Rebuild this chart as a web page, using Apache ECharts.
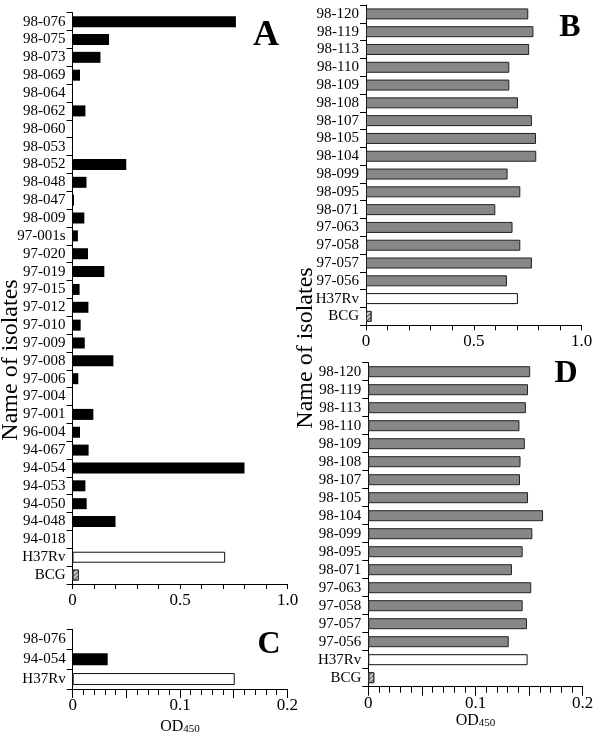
<!DOCTYPE html>
<html>
<head>
<meta charset="utf-8">
<script src="https://cdn.jsdelivr.net/npm/echarts@6/dist/echarts.min.js"></script>
<style>
html,body{margin:0;padding:0;background:#fff;}
#chart{width:602px;height:740px;}
</style>
</head>
<body>
<div id="chart"></div>
<script>
// ---------- data ----------
var catsA = ['98-076','98-075','98-073','98-069','98-064','98-062','98-060','98-053','98-052','98-048','98-047','98-009','97-001s','97-020','97-019','97-015','97-012','97-010','97-009','97-008','97-006','97-004','97-001','96-004','94-067','94-054','94-053','94-050','94-048','94-018','H37Rv','BCG'];
var valsA = [0.76,0.17,0.13,0.035,0,0.06,0,0,0.25,0.065,0.007,0.055,0.025,0.072,0.148,0.033,0.074,0.038,0.057,0.19,0.027,0,0.097,0.035,0.075,0.80,0.06,0.066,0.20,0,0.71,0.03];

var catsB = ['98-120','98-119','98-113','98-110','98-109','98-108','98-107','98-105','98-104','98-099','98-095','98-071','97-063','97-058','97-057','97-056','H37Rv','BCG'];
var valsB = [0.753,0.777,0.757,0.665,0.665,0.705,0.77,0.789,0.79,0.657,0.716,0.60,0.68,0.716,0.77,0.654,0.705,0.026];

var catsC = ['98-076','94-054','H37Rv'];
var valsC = [0,0.0326,0.151];

var catsD = catsB;
var valsD = [0.151,0.149,0.147,0.141,0.146,0.142,0.1415,0.149,0.163,0.153,0.144,0.134,0.152,0.144,0.148,0.131,0.1486,0.0056];

var panelLetters = ['A','B','C','D'];
var yTitle = 'Name of isolates';
var xTitleMain = 'OD';
var xTitleSub = '450';

// ---------- styles ----------
var FONT = "'Liberation Serif','DejaVu Serif','Times New Roman',serif";
var styleWhite = {color:'#ffffff', borderColor:'#111', borderWidth:1};
var styleHatch = {color:'#cfcfcf', borderColor:'#333', borderWidth:1,
  decal:{symbol:'rect', symbolSize:1, dashArrayX:[1,0], dashArrayY:[1,2], rotation:-Math.PI/4, color:'#555'}};
var styleBlack = {color:'#000000'};
var styleGray = {color:'#878787', borderColor:'#222', borderWidth:1};

function build(cats, vals, base) {
  return vals.map(function(v, i){
    var st = base;
    if (cats[i] === 'H37Rv') st = styleWhite;
    else if (cats[i] === 'BCG') st = styleHatch;
    return {value: v, itemStyle: st};
  });
}

function fmtUnit(v){
  var r = Math.round(v*10);
  if (r === 0) return '0';
  if (r === 5) return '0.5';
  if (r === 10) return '1.0';
  return '';
}
function fmtSmall(v){
  var r = Math.round(v*100);
  if (r === 0) return '0';
  if (r === 10) return '0.1';
  if (r === 20) return '0.2';
  return '';
}

function xAx(idx, max, interval, fmt, majorLen, minorLen, withName, nameGap) {
  var ax = {
    type:'value', gridIndex:idx, min:0, max:max, interval:interval,
    axisLine:{show:true, onZero:false, lineStyle:{color:'#000', width:1}},
    axisTick:{show:true, length:majorLen, lineStyle:{color:'#000'}},
    minorTick:{show:true, splitNumber:5, length:minorLen, lineStyle:{color:'#000'}},
    splitLine:{show:false}, minorSplitLine:{show:false},
    axisLabel:{formatter:fmt, color:'#000', fontFamily:FONT, fontSize:17, margin:8, showMinLabel:true, showMaxLabel:true}
  };
  if (withName) {
    ax.name = '{a|' + xTitleMain + '}{b|' + xTitleSub + '}';
    ax.nameLocation = 'middle';
    ax.nameGap = nameGap;
    ax.nameTextStyle = {color:'#000', rich:{
      a:{fontFamily:FONT, fontSize:16, color:'#000'},
      b:{fontFamily:FONT, fontSize:11, color:'#000', verticalAlign:'bottom', padding:[5,0,0,0]}
    }};
  }
  return ax;
}

function yAx(idx, cats) {
  return {
    type:'category', gridIndex:idx, data:cats, inverse:true,
    axisLine:{show:true, lineStyle:{color:'#000', width:1}},
    axisTick:{show:true, length:6, lineStyle:{color:'#000'}},
    axisLabel:{color:'#000', fontFamily:FONT, fontSize:15, margin:7, interval:0}
  };
}

function letter(t, x, y, size){
  return {type:'text', x:x, y:y, style:{text:t, fill:'#000', font:'bold '+size+'px '+FONT, textAlign:'center', textVerticalAlign:'middle'}};
}
function vtitle(x, y){
  return {type:'text', x:x, y:y, rotation:Math.PI/2, style:{text:yTitle, fill:'#000', font:'24px '+FONT, textAlign:'center', textVerticalAlign:'middle'}};
}

var option = {
  animation:false,
  backgroundColor:'#fff',
  grid:[
    {left:72.5, top:12.7, width:215, height:571.3},
    {left:366, top:5, width:215.5, height:320.3},
    {left:72.7, top:629.3, width:214.6, height:59.7},
    {left:368.3, top:362.7, width:214.4, height:324}
  ],
  xAxis:[
    xAx(0, 1, 0.5, fmtUnit, 5, 5, false),
    xAx(1, 1, 0.5, fmtUnit, 5, 5, false),
    xAx(2, 0.2, 0.05, fmtSmall, 9, 6, true, 30),
    xAx(3, 0.2, 0.05, fmtSmall, 9, 6, true, 26)
  ],
  yAxis:[ yAx(0, catsA), yAx(1, catsB), yAx(2, catsC), yAx(3, catsD) ],
  series:[
    {type:'bar', xAxisIndex:0, yAxisIndex:0, barWidth:11, data:build(catsA, valsA, styleBlack)},
    {type:'bar', xAxisIndex:1, yAxisIndex:1, barWidth:11, data:build(catsB, valsB, styleGray)},
    {type:'bar', xAxisIndex:2, yAxisIndex:2, barWidth:12, data:build(catsC, valsC, styleBlack)},
    {type:'bar', xAxisIndex:3, yAxisIndex:3, barWidth:11, data:build(catsD, valsD, styleGray)}
  ],
  graphic:[
    letter(panelLetters[0], 266, 36, 36),
    letter(panelLetters[1], 570, 28, 32),
    letter(panelLetters[2], 269, 645, 32),
    letter(panelLetters[3], 566, 374, 32),
    vtitle(11, 360),
    vtitle(306, 348)
  ]
};

var chart = echarts.init(document.getElementById('chart'), null, {renderer:'canvas'});
chart.setOption(option);
</script>
</body>
</html>
